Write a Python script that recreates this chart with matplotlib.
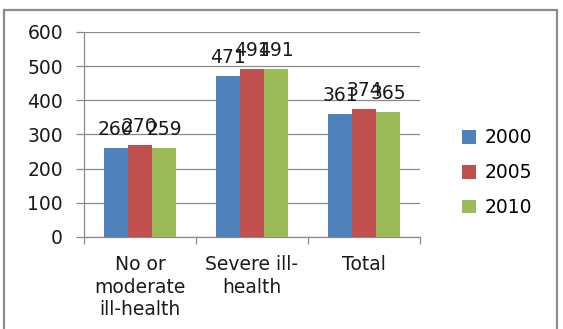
import matplotlib.pyplot as plt
import numpy as np
from matplotlib.patches import Rectangle

categories = ["No or\nmoderate\nill-health", "Severe ill-\nhealth", "Total"]
years = ["2000", "2005", "2010"]
v2000 = [260, 471, 361]
v2005 = [270, 491, 374]
v2010 = [259, 491, 365]
colors = ["#4F81BD", "#C0504D", "#9BBB59"]

plt.rcParams["font.family"] = "DejaVu Sans"
fs = 13.5

fig = plt.figure(figsize=(5.63, 3.29), dpi=100)
ax = fig.add_axes([0.149, 0.28, 0.597, 0.623])

x = np.arange(len(categories))
w = 0.215
for i, (vals, year) in enumerate(zip([v2000, v2005, v2010], years)):
    bars = ax.bar(x + (i - 1) * w, vals, w, color=colors[i], label=year, zorder=3)
    for b, v in zip(bars, vals):
        ax.annotate(str(v), (b.get_x() + b.get_width() / 2, v),
                    xytext=(0, 6.5), textcoords="offset points",
                    ha="center", va="bottom", fontsize=fs, color="#1a1a1a", zorder=4)

ax.set_xlim(-0.5, 2.5)
ax.set_ylim(0, 600)
ax.set_yticks(range(0, 601, 100))
ax.yaxis.grid(True, color="#8a8a8a", lw=0.9, zorder=0)
ax.set_xticks(x)
ax.set_xticklabels(categories, fontsize=fs, color="#1a1a1a", linespacing=1.25)
ax.set_xticks([-0.5, 0.5, 1.5, 2.5], minor=True)
ax.tick_params(axis="x", which="major", length=0, pad=13)
ax.tick_params(axis="x", which="minor", length=5, color="#8a8a8a", width=0.9)
ax.tick_params(axis="y", length=6, color="#8a8a8a", width=0.9, pad=9,
               labelsize=fs, labelcolor="#1a1a1a")
for s in ["top", "right"]:
    ax.spines[s].set_visible(False)
for s in ["left", "bottom"]:
    ax.spines[s].set_color("#8a8a8a")
    ax.spines[s].set_linewidth(0.9)

leg = fig.legend(loc="center left", bbox_to_anchor=(0.79, 0.475), frameon=False,
                 fontsize=fs, handlelength=0.75, handleheight=0.75,
                 handletextpad=0.45, labelspacing=0.85)

# outer chart border
fig.patches.append(Rectangle((4 / 563, -0.1), 553 / 563, 1.1 - 10 / 329,
                             transform=fig.transFigure, fill=False,
                             edgecolor="#8c8c8c", lw=1.6))

fig.savefig("out.png", dpi=100)
